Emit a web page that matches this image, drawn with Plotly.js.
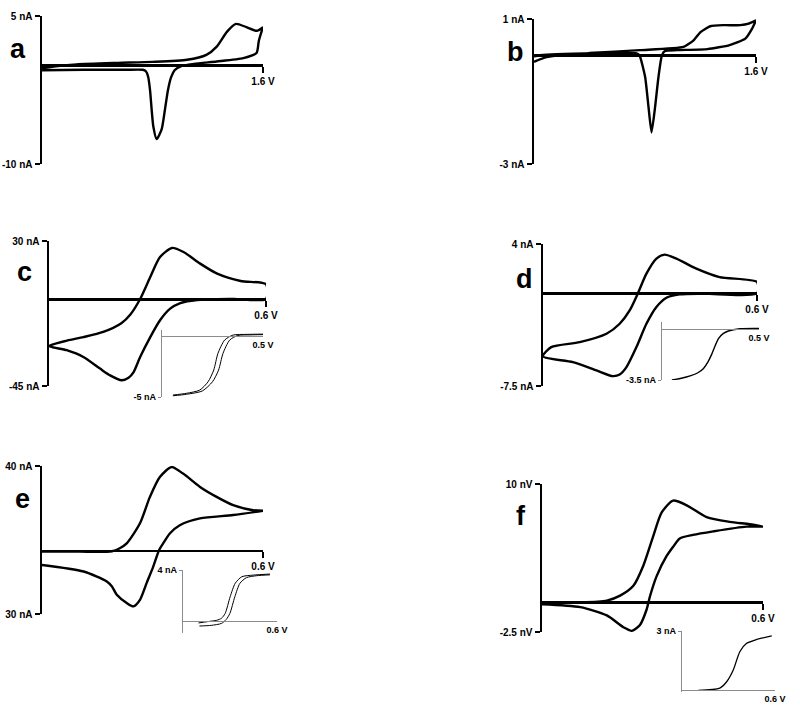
<!DOCTYPE html>
<html>
<head>
<meta charset="utf-8">
<script src="https://cdn.plot.ly/plotly-3.0.1.min.js"></script>
<style>
  html, body { margin: 0; padding: 0; background: #fff; }
  #cv { width: 800px; height: 712px; }
</style>
</head>
<body>
<div id="cv"></div>
<script>
// cyclic voltammograms, V vs nA
var aFwdV = [0, 0.1, 0.25, 0.55, 0.8, 1.05, 1.19, 1.265, 1.34, 1.405, 1.48, 1.555, 1.6];
var aFwdI = [-0.3, -0.1, 0.1, 0.25, 0.35, 0.56, 1.06, 1.9, 3.42, 4.2, 3.87, 3.5, 3.87];
var aRevV = [1.6, 1.57, 1.553, 1.458, 1.265, 1.1, 1.0, 0.96, 0.935, 0.912, 0.89, 0.866, 0.83, 0.806, 0.794, 0.782, 0.768, 0.752, 0.73, 0.6, 0.3, 0];
var aRevI = [3.87, 2.5, 1.24, 0.73, 0.39, 0.15, -0.12, -0.5, -1.2, -2.5, -4.5, -6.5, -7.48, -6.2, -4.5, -2.48, -1.13, -0.6, -0.45, -0.45, -0.45, -0.5];

var bFwdV = [0, 0.09, 0.4, 0.765, 1.078, 1.15, 1.2, 1.27, 1.366, 1.487, 1.547, 1.6];
var bFwdI = [-0.18, -0.05, 0.06, 0.14, 0.23, 0.41, 0.64, 0.8, 0.83, 0.83, 0.87, 0.96];
var bRevV = [1.6, 1.571, 1.523, 1.41, 1.25, 1.03, 0.945, 0.922, 0.897, 0.873, 0.847, 0.825, 0.801, 0.76, 0.74, 0.164, 0.043, 0];
var bRevI = [0.96, 0.73, 0.46, 0.28, 0.17, 0.14, 0.12, 0, -0.6, -1.42, -2.13, -1.42, -0.6, 0, 0.05, 0.03, 0, -0.03];

var cFwdV = [0, 0.05, 0.095, 0.15, 0.2, 0.225, 0.252, 0.28, 0.307, 0.34, 0.372, 0.418, 0.465, 0.53, 0.6];
var cFwdI = [-24.3, -21.5, -19.7, -17, -12.5, -8, 0, 11.4, 21.7, 26.4, 24.3, 18.3, 13.1, 9.3, 7.6];
var cRevV = [0.6, 0.51, 0.409, 0.363, 0.335, 0.307, 0.28, 0.252, 0.234, 0.22, 0.201, 0.169, 0.141, 0.095, 0.049, 0];
var cRevI = [0, 0, -0.5, -2.1, -5, -11, -19.7, -30, -37.8, -40.7, -42, -39.5, -36, -30, -26.5, -24.3];
var cIn1V = [0.054, 0.12, 0.187, 0.228, 0.256, 0.277, 0.31, 0.351, 0.42, 0.5];
var cIn1I = [-4.84, -4.7, -4.43, -3.75, -2.79, -1.42, -0.33, 0.08, 0.14, 0.16];
var cIn2V = [0.054, 0.12, 0.2, 0.25, 0.28, 0.302, 0.335, 0.375, 0.44, 0.5];
var cIn2I = [-4.9, -4.78, -4.5, -3.75, -2.79, -1.42, -0.33, 0.05, 0.1, 0.12];

var dFwdV = [0, 0.023, 0.103, 0.178, 0.215, 0.243, 0.266, 0.29, 0.318, 0.341, 0.374, 0.43, 0.495, 0.6];
var dFwdI = [-5.1, -4.35, -3.95, -3.27, -2.46, -1.38, 0, 1.6, 2.82, 3.14, 2.82, 2.0, 1.32, 0.92];
var dRevV = [0.6, 0.45, 0.383, 0.346, 0.318, 0.29, 0.262, 0.234, 0.215, 0.196, 0.15, 0.084, 0];
var dRevI = [0, -0.02, -0.08, -0.35, -1.1, -2.46, -4.35, -5.97, -6.57, -6.7, -6.24, -5.57, -5.1];
var dInV = [0.051, 0.1, 0.145, 0.185, 0.214, 0.237, 0.257, 0.275, 0.291, 0.315, 0.342, 0.402, 0.5];
var dInI = [-3.5, -3.38, -3.22, -3.0, -2.7, -2.25, -1.7, -1.1, -0.64, -0.3, -0.12, 0.03, 0.05];

var eFwdV = [0, 0.1, 0.19, 0.21, 0.23, 0.266, 0.293, 0.32, 0.352, 0.383, 0.429, 0.474, 0.519, 0.573, 0.6];
var eFwdI = [-0.5, -0.5, -0.3, 1.0, 3.4, 12.9, 25.4, 34.8, 39.5, 36.4, 30.1, 25.4, 21.5, 19.1, 18.8];
var eRevV = [0.6, 0.519, 0.429, 0.374, 0.347, 0.329, 0.318, 0.302, 0.284, 0.266, 0.248, 0.23, 0.203, 0.19, 0.176, 0.113, 0];
var eRevI = [18.8, 16.8, 15.2, 12.0, 8.1, 3.4, 0.3, -7.6, -15.4, -23.3, -26.4, -24.8, -20.9, -17, -14.6, -9.9, -6.8];
var eIn1V = [0.099, 0.16, 0.216, 0.245, 0.269, 0.301, 0.333, 0.375, 0.449, 0.555];
var eIn1I = [-0.16, -0.05, 0.05, 0.2, 0.58, 1.9, 2.95, 3.47, 3.6, 3.68];
var eIn2V = [0.105, 0.18, 0.245, 0.275, 0.299, 0.331, 0.363, 0.405, 0.47, 0.555];
var eIn2I = [-0.4, -0.35, -0.2, 0.1, 0.58, 1.9, 2.95, 3.4, 3.55, 3.62];

var fFwdV = [0, 0.104, 0.176, 0.212, 0.248, 0.275, 0.302, 0.325, 0.356, 0.393, 0.447, 0.51, 0.564, 0.6];
var fFwdI = [0, 0, 0.15, 0.57, 1.4, 3.1, 5.6, 7.6, 8.6, 8.2, 7.2, 6.8, 6.6, 6.4];
var fRevV = [0.6, 0.555, 0.465, 0.41, 0.374, 0.356, 0.338, 0.311, 0.293, 0.284, 0.266, 0.244, 0.221, 0.176, 0.104, 0];
var fRevI = [6.4, 6.4, 6.0, 5.7, 5.4, 4.7, 3.9, 2.2, 0.5, -0.6, -1.9, -2.4, -2.1, -1.1, -0.4, -0.15];
var fInV = [0.104, 0.244, 0.287, 0.33, 0.373, 0.417, 0.482, 0.579];
var fInI = [-0.04, 0.08, 0.39, 0.99, 1.94, 2.37, 2.57, 2.75];

var W = 800, H = 712;
var FONT = 'Liberation Sans, Arial, sans-serif';

var layout = {
    width: W,
    height: H,
    margin: {t: 0, b: 0, l: 0, r: 0},
    paper_bgcolor: '#fff',
    plot_bgcolor: 'rgba(0,0,0,0)',
    showlegend: false,
    font: {family: FONT, color: '#000'},
    annotations: []
};
var data = [];

// box = [left px, right px, top px, bottom px]
function addPanel(k, box, xr, yr, xtxt, ytv, ytt, inset) {
    var s = k === 1 ? '' : String(k);
    var ydom = [1 - box[3] / H, 1 - box[2] / H];
    var zero = ydom[0] + (0 - yr[0]) / (yr[1] - yr[0]) * (ydom[1] - ydom[0]);
    var lc = inset ? '#8c8c8c' : '#000';
    var fs = inset ? 9 : 10;
    layout['xaxis' + s] = {
        domain: [box[0] / W, box[1] / W],
        range: xr,
        anchor: 'free',
        position: zero,
        showline: true,
        linecolor: lc,
        linewidth: inset ? 1.2 : 2.5,
        showgrid: false,
        zeroline: false,
        tickmode: 'array',
        tickvals: [xr[1]],
        ticktext: [xtxt],
        ticks: inset ? '' : 'outside',
        ticklen: 6,
        tickwidth: 2,
        tickcolor: '#000',
        tickfont: {family: FONT, size: fs, weight: 'bold', color: '#000'}
    };
    layout['yaxis' + s] = {
        domain: ydom,
        range: yr,
        anchor: 'x' + s,
        showline: true,
        linecolor: lc,
        linewidth: inset ? 1.2 : 2.5,
        showgrid: false,
        zeroline: false,
        tickmode: 'array',
        tickvals: ytv,
        ticktext: ytt,
        ticks: 'outside',
        ticklen: inset ? 3 : 5,
        tickwidth: inset ? 1 : 2,
        tickcolor: lc,
        tickfont: {family: FONT, size: fs, weight: 'bold', color: '#000'}
    };
}

function addCurve(k, xs, ys, w, sm) {
    var s = k === 1 ? '' : String(k);
    data.push({
        x: xs, y: ys, xaxis: 'x' + s, yaxis: 'y' + s,
        type: 'scatter', mode: 'lines',
        line: {color: '#000', width: w, shape: 'spline', smoothing: sm || 0.7},
        hoverinfo: 'skip', cliponaxis: false
    });
}

function letter(t, x, y) {
    layout.annotations.push({
        text: t, xref: 'paper', yref: 'paper', x: x / W, y: 1 - y / H,
        xanchor: 'center', yanchor: 'bottom', showarrow: false,
        font: {family: FONT, size: 27, weight: 'bold', color: '#000'}
    });
}

addPanel(1, [42, 263, 16, 164], [0, 1.6], [-10, 5], '1.6 V', [5, -10], ['5 nA', '-10 nA']);
addPanel(2, [534, 756, 19, 164], [0, 1.6], [-3, 1], '1.6 V', [1, -3], ['1 nA', '-3 nA']);
addPanel(3, [49, 266, 241, 386], [0, 0.6], [-45, 30], '0.6 V', [30, -45], ['30 nA', '-45 nA']);
addPanel(4, [543, 757, 244, 386], [0, 0.6], [-7.5, 4], '0.6 V', [4, -7.5], ['4 nA', '-7.5 nA']);
addPanel(5, [42, 263, 466, 614], [0, 0.6], [-30, 40], '0.6 V', [40, -30], ['40 nA', '30 nA']);
addPanel(6, [542, 763, 484, 632], [0, 0.6], [-2.5, 10], '0.6 V', [10, -2.5], ['10 nV', '-2.5 nV']);
// insets
addPanel(7, [162, 263, 330, 397], [0, 0.5], [-5, 0.5], '0.5 V', [-5], ['-5 nA'], true);
addPanel(8, [662, 759, 322, 380], [0, 0.5], [-3.5, 0.5], '0.5 V', [-3.5], ['-3.5 nA'], true);
addPanel(9, [183, 277, 570, 633], [0, 0.6], [-0.95, 4], '0.6 V', [4], ['4 nA'], true);
addPanel(10, [682, 775, 631, 692], [0, 0.6], [-0.12, 3], '0.6 V', [3], ['3 nA'], true);

addCurve(1, aFwdV.concat(aRevV), aFwdI.concat(aRevI), 2.4, 0.6);
addCurve(2, bFwdV.concat(bRevV), bFwdI.concat(bRevI), 2.4, 0.5);
addCurve(3, cFwdV.concat(cRevV), cFwdI.concat(cRevI), 2.4);
addCurve(4, dFwdV.concat(dRevV), dFwdI.concat(dRevI), 2.4);
addCurve(5, eFwdV.concat(eRevV), eFwdI.concat(eRevI), 2.4);
addCurve(6, fFwdV.concat(fRevV), fFwdI.concat(fRevI), 2.4);
addCurve(7, cIn1V, cIn1I, 1);
addCurve(7, cIn2V, cIn2I, 1);
addCurve(8, dInV, dInI, 1.4);
addCurve(9, eIn1V, eIn1I, 1);
addCurve(9, eIn2V, eIn2I, 1);
addCurve(10, fInV, fInI, 1.3);

letter('a', 18, 66);
letter('b', 515, 69);
letter('c', 24, 289);
letter('d', 524, 296);
letter('e', 22, 516);
letter('f', 521, 533);

Plotly.newPlot('cv', data, layout, {displayModeBar: false, staticPlot: true});
</script>
</body>
</html>
